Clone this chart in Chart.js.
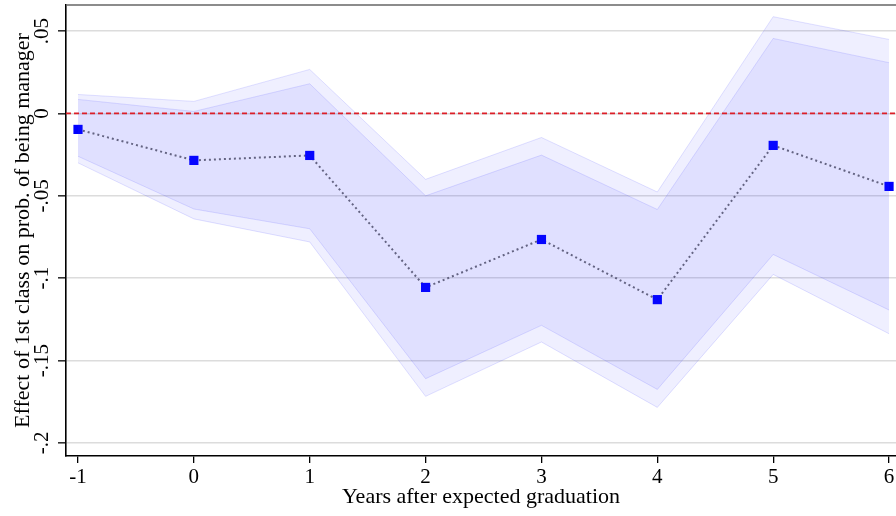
<!DOCTYPE html>
<html><head><meta charset="utf-8">
<script src="https://cdn.jsdelivr.net/npm/chart.js@4.4.0/dist/chart.umd.min.js"></script>
<style>html,body{margin:0;padding:0;background:#fff}</style>
</head><body>
<canvas id="c" width="896" height="516"></canvas>
<script>
const years = [-1, 0, 1, 2, 3, 4, 5, 6];
const estimate   = [-0.0097, -0.0285, -0.0255, -0.1056, -0.0765, -0.1130, -0.0194, -0.0443];
const innerUpper = [ 0.0085,  0.0012,  0.0180, -0.0500, -0.0253, -0.0583,  0.0455,  0.0308];
const innerLower = [-0.0260, -0.0580, -0.0700, -0.1610, -0.1286, -0.1675, -0.0856, -0.1193];
const outerUpper = [ 0.0115,  0.0073,  0.0267, -0.0400, -0.0146, -0.0477,  0.0587,  0.0449];
const outerLower = [-0.0300, -0.0640, -0.0780, -0.1717, -0.1387, -0.1784, -0.0977, -0.1337];
const yTicks = [-0.2, -0.15, -0.1, -0.05, 0, 0.05];
const yTickLabels = ['-.2', '-.15', '-.1', '-.05', '0', '.05'];
const xTicks = years;
const xRange = [-1.1036, 6.06];
const yRange = [-0.2079, 0.0658];
const refValue = 0;

const pts = arr => years.map((x, i) => ({x: x, y: arr[i]}));
const FONT = 'Liberation Serif';

const bandFill = 'rgba(40,40,255,0.075)';
const bandLine = 'rgba(60,60,255,0.15)';

const framePlugin = {
  id: 'frame',
  afterDatasetsDraw(chart) {
    const {ctx, chartArea, scales} = chart;
    const y0 = scales.y.getPixelForValue(refValue);
    ctx.save();
    ctx.strokeStyle = '#dc1f28';
    ctx.lineWidth = 1.6;
    ctx.setLineDash([5, 3]);
    ctx.beginPath();
    ctx.moveTo(chartArea.left, y0);
    ctx.lineTo(chartArea.right, y0);
    ctx.stroke();
    ctx.restore();
  },
  beforeDatasetsDraw(chart) {
    const {ctx, chartArea} = chart;
    ctx.save();
    ctx.strokeStyle = '#666';
    ctx.lineWidth = 1.5;
    ctx.beginPath();
    ctx.moveTo(chartArea.left, chartArea.top);
    ctx.lineTo(chartArea.right, chartArea.top);
    ctx.stroke();
    ctx.restore();
  }
};

new Chart(document.getElementById('c'), {
  type: 'line',
  data: {
    datasets: [
      {data: pts(outerUpper), fill: '+1', backgroundColor: bandFill, borderColor: bandLine, borderWidth: 1, pointRadius: 0, tension: 0},
      {data: pts(outerLower), fill: false, backgroundColor: bandFill, borderColor: bandLine, borderWidth: 1, pointRadius: 0, tension: 0},
      {data: pts(innerUpper), fill: '+1', backgroundColor: bandFill, borderColor: bandLine, borderWidth: 1, pointRadius: 0, tension: 0},
      {data: pts(innerLower), fill: false, backgroundColor: bandFill, borderColor: bandLine, borderWidth: 1, pointRadius: 0, tension: 0},
      {data: pts(estimate), fill: false, borderColor: '#6e6e6e', borderWidth: 2, borderDash: [2, 3],
       pointStyle: 'rect', pointRadius: 6.5, pointBackgroundColor: '#0000ff', pointBorderColor: '#0000ff', pointBorderWidth: 0, tension: 0}
    ]
  },
  options: {
    responsive: false,
    animation: false,
    devicePixelRatio: 1,
    layout: {autoPadding: false, padding: {top: 5, right: 0, left: 0, bottom: 0}},
    plugins: {legend: {display: false}, tooltip: {enabled: false}},
    scales: {
      x: {
        type: 'linear', min: xRange[0], max: xRange[1],
        afterBuildTicks: s => { s.ticks = xTicks.map(v => ({value: v})); },
        afterFit: s => { s.height = 60; s.paddingLeft = 0; s.paddingRight = 0; },
        grid: {drawOnChartArea: false, drawTicks: true, tickLength: 7, tickColor: '#000', lineWidth: 1.3},
        border: {color: '#000', width: 1.6},
        ticks: {color: '#000', font: {family: FONT, size: 21}, padding: 2, maxRotation: 0, minRotation: 0,
                callback: v => String(v)},
        title: {display: true, text: 'Years after expected graduation', color: '#000', font: {family: FONT, size: 22}, padding: {top: 0, bottom: 6}}
      },
      y: {
        type: 'linear', min: yRange[0], max: yRange[1],
        afterBuildTicks: s => { s.ticks = yTicks.map(v => ({value: v})); },
        afterFit: s => { s.width = 66; s.paddingTop = 0; s.paddingBottom = 0; },
        grid: {color: '#dcdcdc', lineWidth: 1.6, tickColor: '#333', tickLength: 8, drawTicks: true},
        border: {color: '#000', width: 1.6},
        ticks: {color: '#000', font: {family: FONT, size: 21}, padding: -1.5, minRotation: 90, maxRotation: 90, crossAlign: 'center',
                callback: (v) => { const i = yTicks.findIndex(t => Math.abs(t - v) < 1e-9); return i >= 0 ? yTickLabels[i] : ''; }},
        title: {display: true, text: 'Effect of 1st class on prob. of being manager', color: '#000', font: {family: FONT, size: 22}, padding: {top: 10, bottom: 0}}
      }
    }
  },
  plugins: [framePlugin]
});
</script>
</body></html>
